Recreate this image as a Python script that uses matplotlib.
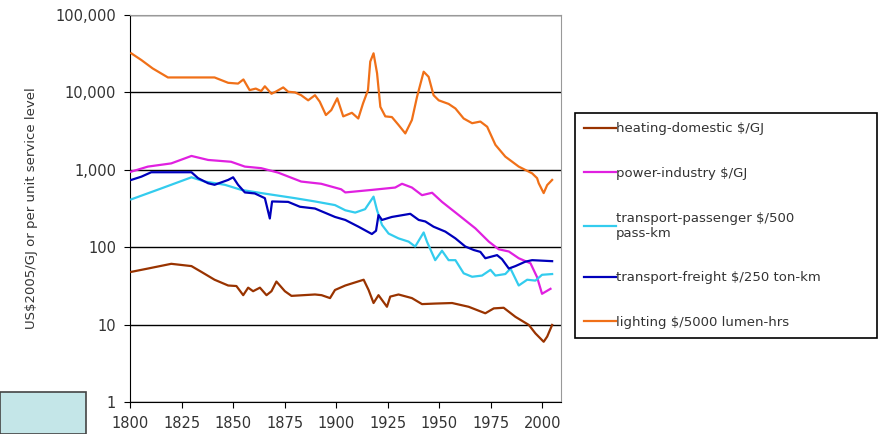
import matplotlib
matplotlib.use("Agg")
import matplotlib.pyplot as plt
import matplotlib.ticker as mticker
from matplotlib.patches import Rectangle

plt.rcParams['font.family'] = ['DejaVu Sans']

# values (years, US$2005 per unit of service)
lighting_yr = [1800.6, 1805.5, 1811, 1818.4, 1841, 1847.6, 1852.4, 1855, 1858, 1861, 1863.6, 1865.4,
               1868.6, 1870.9, 1874.3, 1876.7, 1880, 1883, 1886.4, 1889.7, 1892, 1895, 1897.6, 1900.5,
               1903.4, 1907.6, 1910.7, 1913, 1915.4, 1916.5, 1918.1, 1919.8, 1921.4, 1923.8, 1927,
               1930.2, 1933.5, 1936.7, 1939.2, 1942.4, 1944.8, 1947.2, 1949.7, 1954.5, 1957.8, 1961.8,
               1965.9, 1969.9, 1973.2, 1977.2, 1982, 1988.5, 1995, 1997.4, 1998.2, 2000.6, 2002.3, 2004.7]
lighting = [32000, 26200, 20400, 15600, 15600, 13300, 13000, 14700, 10700, 11200, 10400, 12000,
            9600, 10300, 11600, 10200, 10000, 9200, 7900, 9200, 7600, 5100, 5900, 8400,
            4900, 5450, 4600, 7200, 10700, 25000, 32000, 17700, 6500, 4900, 4800,
            3800, 2950, 4400, 8800, 18500, 15900, 9200, 7900, 7100, 6200, 4600,
            4000, 4200, 3600, 2100, 1480, 1100, 900, 780, 670, 500, 635, 740]

power_yr = [1800.5, 1808.7, 1820, 1829.8, 1837.9, 1849, 1855.7, 1863.6, 1871.8, 1883, 1892.7, 1902.4,
            1904.4, 1917.3, 1928.6, 1931.9, 1936.7, 1941.6, 1946.5, 1951.3, 1959.4, 1967.5, 1974,
            1978.8, 1983.7, 1988.5, 1994.2, 1997.4, 1999.8, 2003.9]
power = [945, 1100, 1210, 1510, 1340, 1270, 1100, 1050, 920, 705, 660, 560,
         510, 550, 590, 660, 590, 470, 505, 385, 260, 175, 118,
         94, 88, 72, 62, 41, 25, 29]

passenger_yr = [1800.6, 1815.2, 1829.8, 1836.3, 1846, 1854, 1863.7, 1880, 1889.7, 1899.4, 1904.4, 1909.2,
                1914, 1918.1, 1919.8, 1922.2, 1925.4, 1930.2, 1935.1, 1938.3, 1942.4, 1944, 1948,
                1951.3, 1954.5, 1957.8, 1961.8, 1965.9, 1970.7, 1974.8, 1977.2, 1982, 1984.5, 1988.5,
                1992.6, 1996.6, 1999.8, 2004.7]
passenger = [415, 575, 800, 705, 640, 550, 500, 430, 390, 350, 300, 280,
             310, 450, 300, 194, 150, 130, 118, 102, 155, 118, 68,
             90, 68, 68, 46, 41.5, 43, 51, 43, 45, 53, 32,
             38, 37, 44, 45]

freight_yr = [1800.6, 1805.5, 1810.3, 1829.8, 1833, 1837.9, 1841, 1847.6, 1850, 1852.4, 1855.7, 1860.5,
              1865.4, 1867.8, 1868.9, 1876.7, 1882.4, 1889.7, 1899.4, 1904.4, 1910.8, 1917.3, 1919.3,
              1920.5, 1922.2, 1927, 1935.9, 1940, 1943.2, 1947.2, 1952.9, 1957.8, 1962.6, 1966.7,
              1969.9, 1972.3, 1978, 1980.4, 1983.7, 1986.9, 1991.7, 1995, 2004.7]
freight = [740, 815, 930, 930, 780, 670, 640, 740, 800, 640, 510, 495,
           430, 235, 390, 385, 333, 316, 246, 225, 184, 148, 163,
           260, 225, 246, 270, 225, 215, 184, 159, 130, 102, 92,
           87, 72, 79, 70, 53, 57, 65, 68, 66]

heating_yr = [1800.6, 1808.7, 1820, 1829.8, 1834.6, 1841, 1847.6, 1851.6, 1854.9, 1857.3, 1859.7, 1863,
              1866.2, 1868.6, 1871, 1875.1, 1878.3, 1889.7, 1892.9, 1897, 1899.4, 1904.4, 1913.3,
              1915.7, 1918.1, 1920.5, 1924.6, 1926.2, 1930.2, 1936.7, 1941.6, 1948, 1956.2, 1964.2,
              1972.3, 1976.4, 1981.2, 1986.9, 1993.4, 1996.6, 2000.6, 2002.3, 2004.7]
heating = [48, 53, 61, 57, 48, 38, 32, 31.5, 24, 30, 27, 30,
           24, 27, 36, 27, 23.5, 24.5, 24, 22, 28, 32, 38,
           28, 19, 24, 17, 23, 24.5, 22, 18.4, 18.7, 19, 17,
           14, 16.2, 16.5, 12.6, 9.9, 7.7, 6.0, 7.0, 9.9]

labels = ['heating-domestic $/GJ', 'power-industry $/GJ', 'transport-passenger $/500\npass-km',
          'transport-freight $/250 ton-km', 'lighting $/5000 lumen-hrs']
colors = ['#993300', '#e020e0', '#33ccee', '#0000bb', '#f07018']

fig = plt.figure(figsize=(8.81, 4.34), dpi=100)
ax = fig.add_axes([130 / 881, 1 - 402 / 434, 431 / 881, 387 / 434])

series = [(heating_yr, heating), (power_yr, power), (passenger_yr, passenger),
          (freight_yr, freight), (lighting_yr, lighting)]
handles = []
for (xs, ys), c, lab in zip(series, colors, labels):
    h, = ax.plot(xs, ys, color=c, lw=1.6, label=lab, zorder=3)
    handles.append(h)

ax.set_yscale('log')
ax.set_ylim(1, 100000)
ax.set_xlim(1800, 2009)
ax.set_xticks(range(1800, 2001, 25))
ax.yaxis.set_major_formatter(mticker.FuncFormatter(lambda v, p: f"{v:,.0f}"))
ax.yaxis.set_minor_locator(mticker.NullLocator())
ax.grid(axis='y', which='major', color='black', lw=1, zorder=1)
ax.tick_params(direction='out', length=4, labelsize=10.5, colors='black', labelcolor='#333333')
ax.tick_params(axis='y', pad=6)
ax.tick_params(axis='x', pad=6)
for s in ['top', 'right']:
    ax.spines[s].set_color('#999999')
ax.set_ylabel('US$2005/GJ or per unit service level', fontsize=9.5, color='#333333')
ax.yaxis.set_label_coords(38 / 881, 0.5, transform=fig.transFigure)
ax.yaxis.label.set_position((38 / 881, 1 - 208 / 434))

leg = fig.legend(handles=handles, loc='upper left',
                 bbox_to_anchor=(575 / 881, 1 - 338 / 434, 302 / 881, 225 / 434),
                 mode='expand', borderaxespad=0, fontsize=9.5, labelspacing=2.4,
                 handlelength=2.4, handletextpad=0.0, borderpad=0.7,
                 fancybox=False, framealpha=1)
leg.get_frame().set_edgecolor('black')
leg.get_frame().set_linewidth(1.2)
for t in leg.get_texts():
    t.set_color('#333333')

# decorative box at lower left of the slide
fig.patches.append(Rectangle((0, 0), 86 / 881, 42 / 434, transform=fig.transFigure,
                             facecolor='#c4e6e8', edgecolor='#444444', lw=1.2))

fig.savefig('out.png', dpi=100, facecolor='white')
